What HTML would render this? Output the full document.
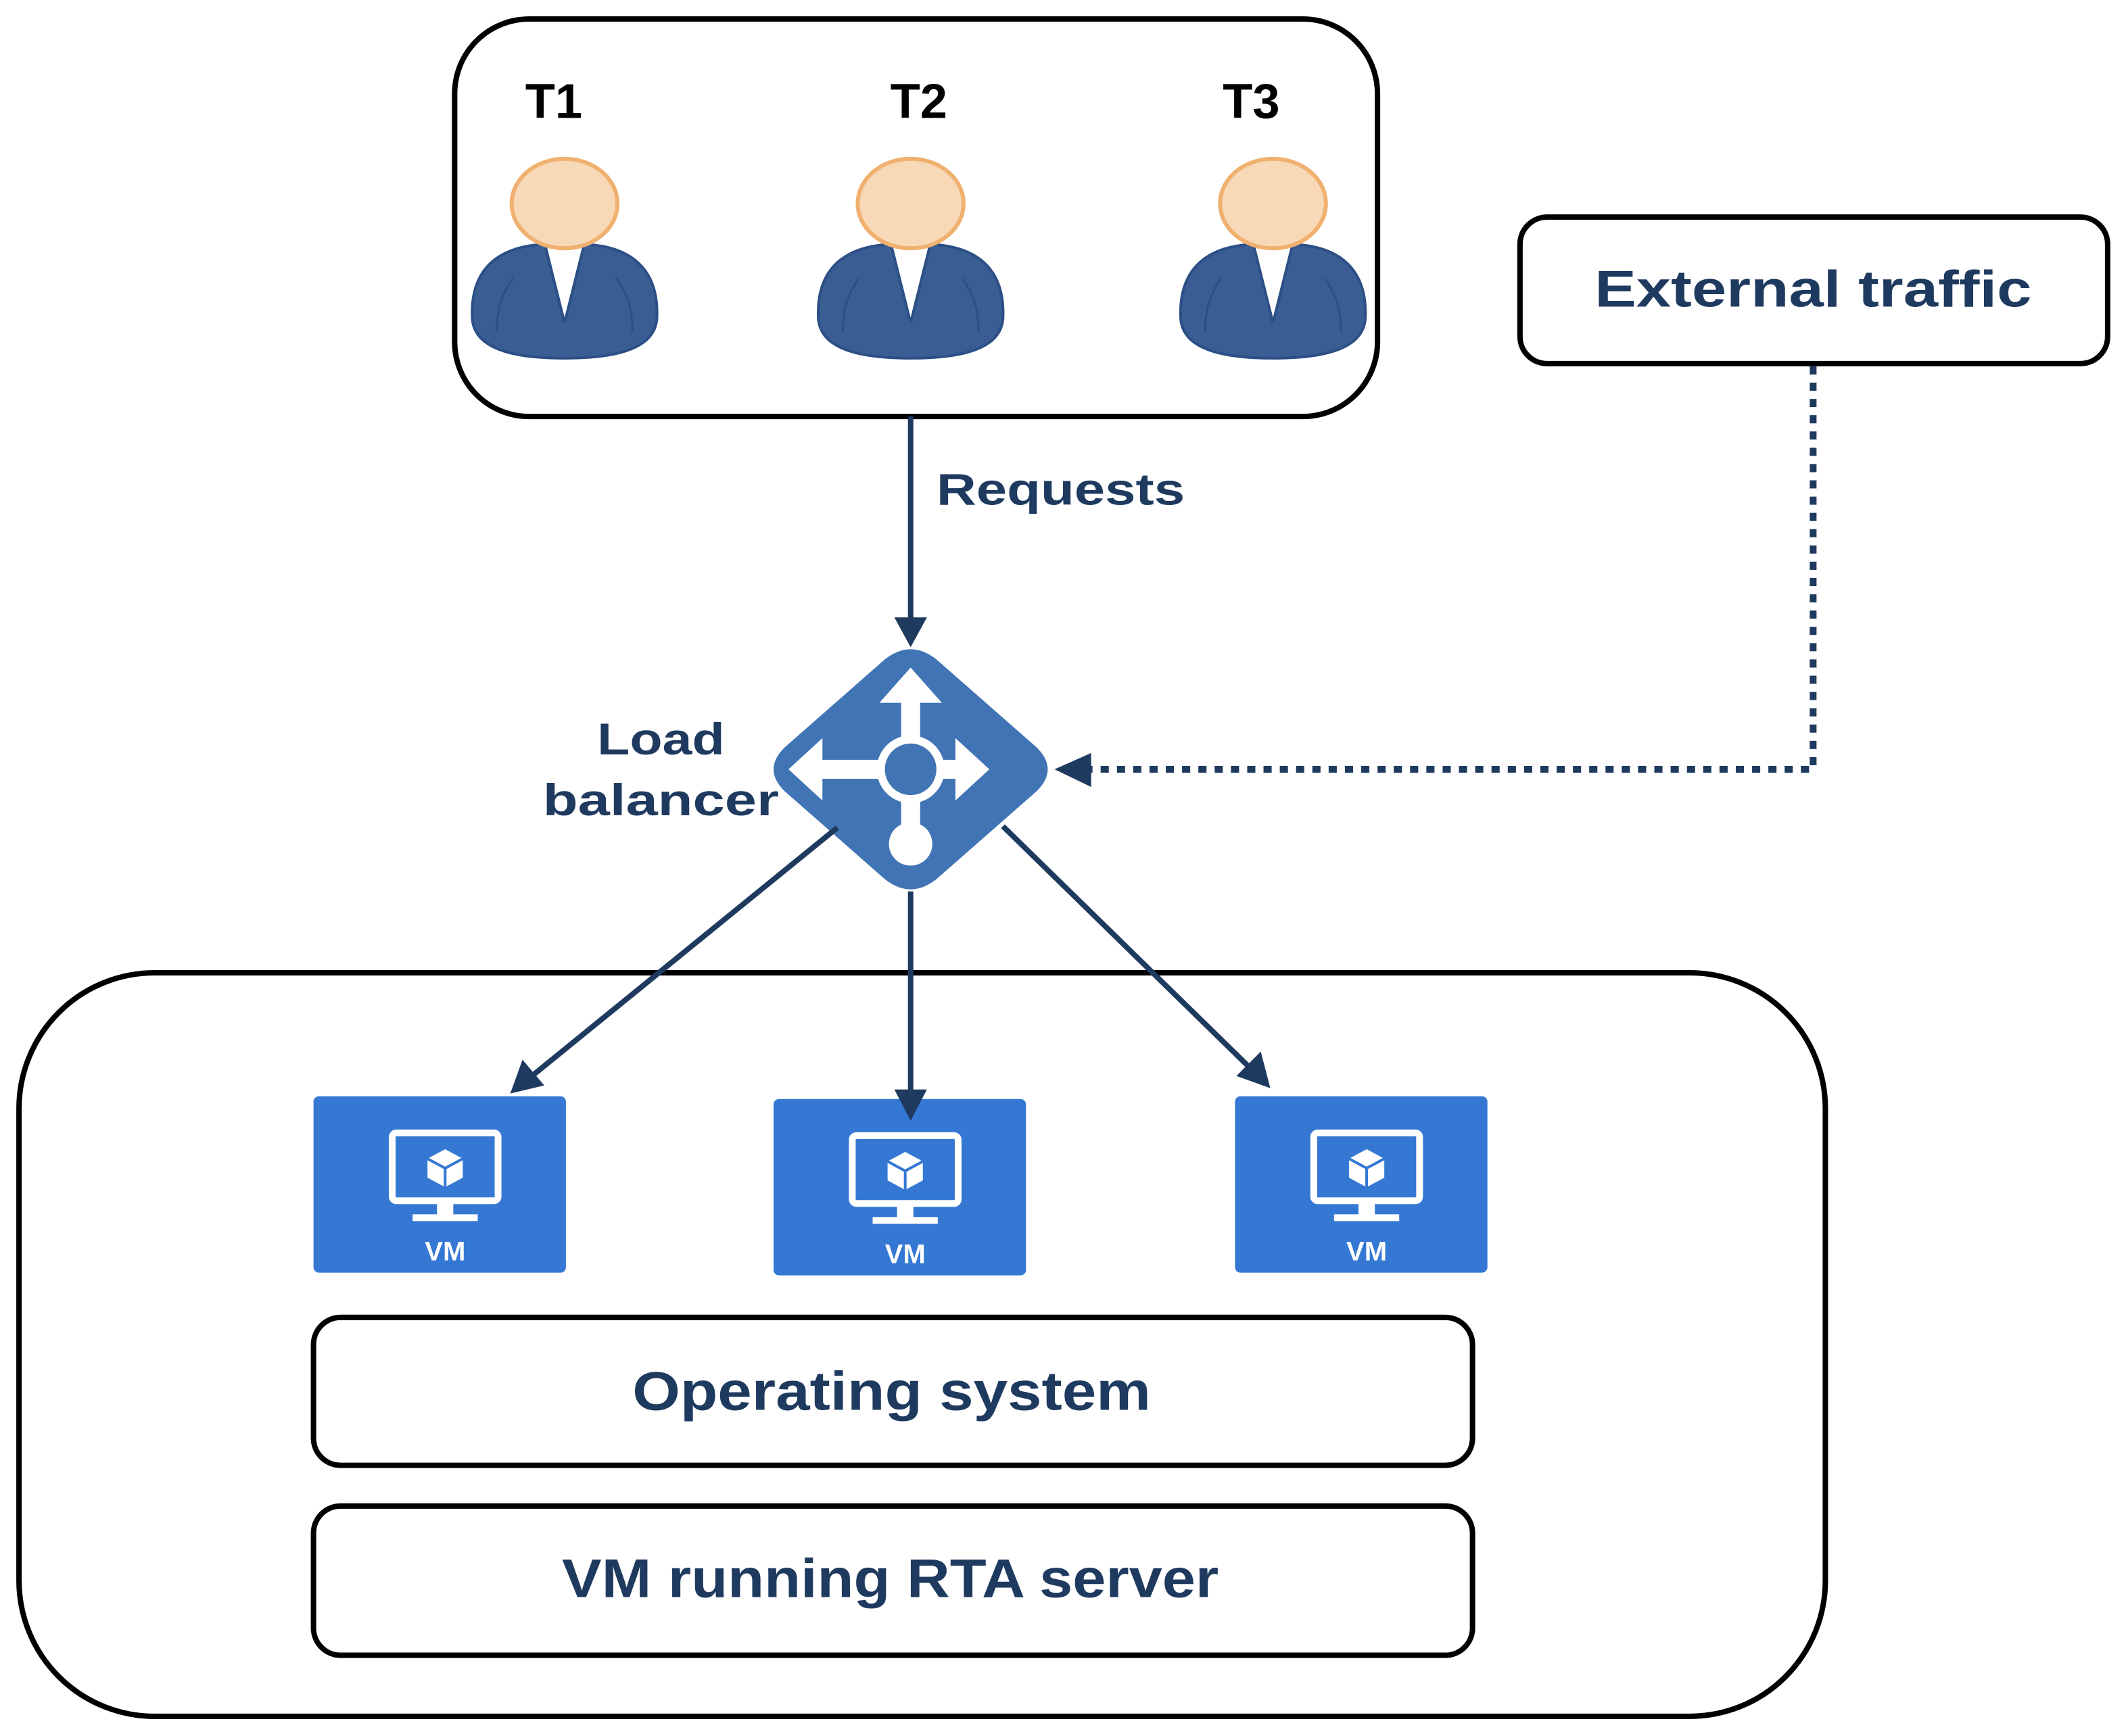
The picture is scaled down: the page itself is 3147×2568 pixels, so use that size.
<!DOCTYPE html>
<html><head><meta charset="utf-8"><style>html,body{margin:0;padding:0;background:#fff}svg{display:block}</style></head>
<body>
<svg width="3147" height="2568" viewBox="0 0 1568 1279.5" xmlns="http://www.w3.org/2000/svg" font-family="Liberation Sans, sans-serif" font-weight="bold">
<defs>
<g id="person">
<path d="M -68,85 C -70,45 -45,30 -10,30 L 10,30 C 45,30 70,45 68,85 C 66,110 30,114 0,114 C -30,114 -66,110 -68,85 Z" fill="#3a5d94" stroke="#2c4f86" stroke-width="2"/>
<path d="M -50,95 C -50,75 -45,65 -38,55 M 50,95 C 50,75 45,65 38,55" fill="none" stroke="#2c4f86" stroke-width="1.5"/>
<path d="M -14,32 L 14,32 L 0,88 Z" fill="#fff"/>
<path d="M -14,32 L 0,88 M 14,32 L 0,88" stroke="#2c4f86" stroke-width="2" fill="none"/>
<ellipse cx="0" cy="0" rx="39" ry="33" fill="#f7d9b8" stroke="#f0b170" stroke-width="3"/>
</g>
<g id="vm">
<rect x="0" y="0" width="186" height="130" rx="4" fill="#3478d4"/>
<rect x="58" y="27" width="78" height="50" rx="3" fill="none" stroke="#fff" stroke-width="5"/>
<rect x="91" y="79" width="12" height="9" fill="#fff"/>
<rect x="73" y="87" width="48" height="5" fill="#fff"/>
<path d="M97,39 L110,46 L110,60 L97,67 L84,60 L84,46 Z" fill="#fff"/>
<path d="M84,46 L97,53 L110,46 M97,53 L97,67" stroke="#3478d4" stroke-width="2" fill="none"/>
<text x="97" y="121" font-size="20" fill="#fff" text-anchor="middle">VM</text>
</g>
</defs>

<rect x="335" y="14" width="680" height="293" rx="55" fill="none" stroke="#000" stroke-width="4"/>
<text x="408" y="87" font-size="36" text-anchor="middle" fill="#000">T1</text>
<text x="677" y="87" font-size="36" text-anchor="middle" fill="#000">T2</text>
<text x="922" y="87" font-size="36" text-anchor="middle" fill="#000">T3</text>
<use href="#person" x="416" y="150"/>
<use href="#person" x="671" y="150"/>
<use href="#person" x="938" y="150"/>

<rect x="1120" y="160" width="433" height="108" rx="20" fill="none" stroke="#000" stroke-width="4"/>
<text x="1175" y="226" font-size="38" textLength="322" lengthAdjust="spacingAndGlyphs" fill="#1f3a5f">External traffic</text>

<line x1="671" y1="307" x2="671" y2="458" stroke="#1f3a5f" stroke-width="4"/>
<path d="M659,455 L683,455 L671,477 Z" fill="#1f3a5f"/>
<text x="690" y="372" font-size="33" textLength="183" lengthAdjust="spacingAndGlyphs" fill="#1f3a5f">Requests</text>

<path d="M1336,270 L1336,567 L800,567" fill="none" stroke="#1f3a5f" stroke-width="5" stroke-dasharray="6,6"/>
<path d="M777,567 L804,555 L804,580 Z" fill="#1f3a5f"/>

<path d="M652,486 Q671,471 690,486 L764,551 Q780,567 764,583 L690,648 Q671,663 652,648 L578,583 Q562,567 578,551 Z" fill="#4174b4"/>
<g fill="#fff">
<rect x="605" y="560" width="100" height="14"/>
<path d="M581,567 L606,544 L606,590 Z"/>
<path d="M729,567 L704,544 L704,590 Z"/>
<rect x="664" y="515" width="14" height="110"/>
<path d="M671,492 L648,518 L694,518 Z"/>
<circle cx="671" cy="567" r="25"/>
<circle cx="671" cy="622" r="16"/>
</g>
<circle cx="671" cy="567" r="19" fill="#4174b4"/>
<text x="440" y="556" font-size="33" textLength="94" lengthAdjust="spacingAndGlyphs" fill="#1f3a5f">Load</text>
<text x="400" y="601" font-size="33" textLength="174" lengthAdjust="spacingAndGlyphs" fill="#1f3a5f">balancer</text>

<rect x="14" y="717" width="1331" height="548" rx="100" fill="none" stroke="#000" stroke-width="4"/>
<use href="#vm" x="231" y="808"/>
<use href="#vm" x="570" y="810"/>
<use href="#vm" x="910" y="808"/>

<line x1="617" y1="610" x2="392" y2="793" stroke="#1f3a5f" stroke-width="4"/>
<path d="M376,806 L385,781 L401,800 Z" fill="#1f3a5f"/>
<line x1="671" y1="657" x2="671" y2="808" stroke="#1f3a5f" stroke-width="4"/>
<path d="M659,803 L683,803 L671,826 Z" fill="#1f3a5f"/>
<line x1="739" y1="609" x2="921" y2="787" stroke="#1f3a5f" stroke-width="4"/>
<path d="M936,802 L911,793 L929,775 Z" fill="#1f3a5f"/>

<rect x="231" y="971" width="854" height="109" rx="20" fill="none" stroke="#000" stroke-width="4"/>
<text x="466" y="1039" font-size="40" textLength="382" lengthAdjust="spacingAndGlyphs" fill="#1f3a5f">Operating system</text>
<rect x="231" y="1110" width="854" height="110" rx="20" fill="none" stroke="#000" stroke-width="4"/>
<text x="414" y="1177" font-size="40" textLength="484" lengthAdjust="spacingAndGlyphs" fill="#1f3a5f">VM running RTA server</text>
</svg>
</body></html>
